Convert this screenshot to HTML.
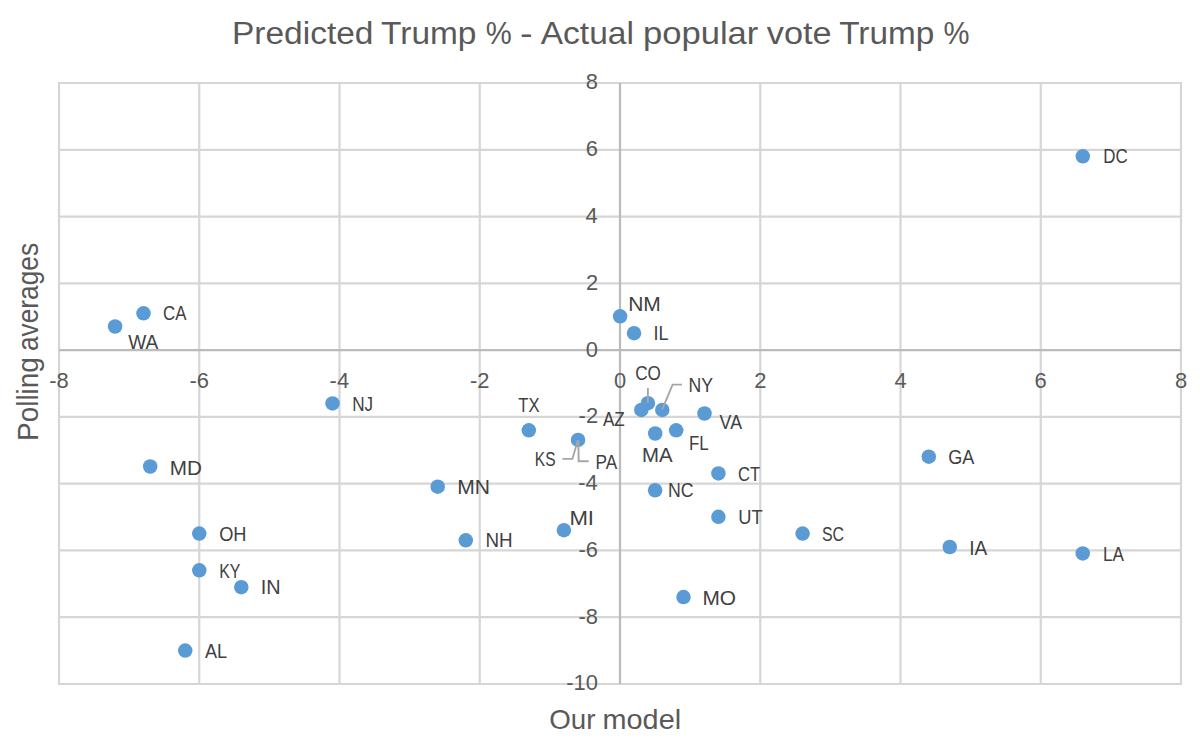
<!DOCTYPE html>
<html><head><meta charset="utf-8"><style>
html,body{margin:0;padding:0;background:#fff;width:1200px;height:743px;overflow:hidden;font-family:"Liberation Sans",sans-serif;}
svg{display:block;}
</style></head><body>
<svg width="1200" height="743" viewBox="0 0 1200 743" font-family="Liberation Sans, sans-serif"><line x1="59.00" y1="82.00" x2="59.00" y2="685.00" stroke="#d6d6d6" stroke-width="2.2"/>
<line x1="199.25" y1="82.00" x2="199.25" y2="685.00" stroke="#d6d6d6" stroke-width="2.2"/>
<line x1="339.50" y1="82.00" x2="339.50" y2="685.00" stroke="#d6d6d6" stroke-width="2.2"/>
<line x1="479.75" y1="82.00" x2="479.75" y2="685.00" stroke="#d6d6d6" stroke-width="2.2"/>
<line x1="760.25" y1="82.00" x2="760.25" y2="685.00" stroke="#d6d6d6" stroke-width="2.2"/>
<line x1="900.50" y1="82.00" x2="900.50" y2="685.00" stroke="#d6d6d6" stroke-width="2.2"/>
<line x1="1040.75" y1="82.00" x2="1040.75" y2="685.00" stroke="#d6d6d6" stroke-width="2.2"/>
<line x1="1181.00" y1="82.00" x2="1181.00" y2="685.00" stroke="#d6d6d6" stroke-width="2.2"/>
<line x1="58.00" y1="684.00" x2="1182.00" y2="684.00" stroke="#d6d6d6" stroke-width="2.2"/>
<line x1="58.00" y1="617.22" x2="1182.00" y2="617.22" stroke="#d6d6d6" stroke-width="2.2"/>
<line x1="58.00" y1="550.44" x2="1182.00" y2="550.44" stroke="#d6d6d6" stroke-width="2.2"/>
<line x1="58.00" y1="483.67" x2="1182.00" y2="483.67" stroke="#d6d6d6" stroke-width="2.2"/>
<line x1="58.00" y1="416.89" x2="1182.00" y2="416.89" stroke="#d6d6d6" stroke-width="2.2"/>
<line x1="58.00" y1="283.33" x2="1182.00" y2="283.33" stroke="#d6d6d6" stroke-width="2.2"/>
<line x1="58.00" y1="216.56" x2="1182.00" y2="216.56" stroke="#d6d6d6" stroke-width="2.2"/>
<line x1="58.00" y1="149.78" x2="1182.00" y2="149.78" stroke="#d6d6d6" stroke-width="2.2"/>
<line x1="58.00" y1="83.00" x2="1182.00" y2="83.00" stroke="#d6d6d6" stroke-width="2.2"/>
<line x1="620.00" y1="83.00" x2="620.00" y2="684.00" stroke="#bbbbbb" stroke-width="2.2"/>
<line x1="59.00" y1="350.11" x2="1181.00" y2="350.11" stroke="#bbbbbb" stroke-width="2.2"/>
<text transform="translate(49.25 388.00) scale(1.0000 1)" font-size="21.91" fill="#595959">-8</text>
<text transform="translate(189.50 388.00) scale(1.0000 1)" font-size="21.91" fill="#595959">-6</text>
<text transform="translate(329.59 388.00) scale(1.0000 1)" font-size="21.91" fill="#595959">-4</text>
<text transform="translate(470.07 388.00) scale(1.0000 1)" font-size="21.91" fill="#595959">-2</text>
<text transform="translate(613.91 388.00) scale(1.0000 1)" font-size="21.91" fill="#595959">0</text>
<text transform="translate(754.16 388.00) scale(1.0000 1)" font-size="21.91" fill="#595959">2</text>
<text transform="translate(894.48 388.00) scale(1.0000 1)" font-size="21.91" fill="#595959">4</text>
<text transform="translate(1034.58 388.00) scale(1.0000 1)" font-size="21.91" fill="#595959">6</text>
<text transform="translate(1174.91 388.00) scale(1.0000 1)" font-size="21.91" fill="#595959">8</text>
<text transform="translate(566.19 690.45) scale(1.0000 1)" font-size="21.91" fill="#595959">-10</text>
<text transform="translate(578.47 623.67) scale(1.0000 1)" font-size="21.91" fill="#595959">-8</text>
<text transform="translate(578.48 556.89) scale(1.0000 1)" font-size="21.91" fill="#595959">-6</text>
<text transform="translate(578.16 490.12) scale(1.0000 1)" font-size="21.91" fill="#595959">-4</text>
<text transform="translate(578.62 423.34) scale(1.0000 1)" font-size="21.91" fill="#595959">-2</text>
<text transform="translate(585.67 356.56) scale(1.0000 1)" font-size="21.91" fill="#595959">0</text>
<text transform="translate(585.92 289.78) scale(1.0000 1)" font-size="21.91" fill="#595959">2</text>
<text transform="translate(585.46 223.01) scale(1.0000 1)" font-size="21.91" fill="#595959">4</text>
<text transform="translate(585.78 156.23) scale(1.0000 1)" font-size="21.91" fill="#595959">6</text>
<text transform="translate(585.77 89.45) scale(1.0000 1)" font-size="21.91" fill="#595959">8</text>
<circle cx="1082.80" cy="156.30" r="7.25" fill="#5b9bd5"/>
<circle cx="143.50" cy="313.30" r="7.25" fill="#5b9bd5"/>
<circle cx="115.10" cy="326.50" r="7.25" fill="#5b9bd5"/>
<circle cx="620.10" cy="316.30" r="7.25" fill="#5b9bd5"/>
<circle cx="634.05" cy="333.20" r="7.25" fill="#5b9bd5"/>
<circle cx="332.50" cy="403.40" r="7.25" fill="#5b9bd5"/>
<circle cx="528.80" cy="430.30" r="7.25" fill="#5b9bd5"/>
<circle cx="647.90" cy="403.20" r="7.25" fill="#5b9bd5"/>
<circle cx="641.30" cy="409.90" r="7.25" fill="#5b9bd5"/>
<circle cx="662.30" cy="409.90" r="7.25" fill="#5b9bd5"/>
<circle cx="704.50" cy="413.50" r="7.25" fill="#5b9bd5"/>
<circle cx="578.05" cy="439.90" r="7.25" fill="#5b9bd5"/>
<circle cx="655.20" cy="433.50" r="7.25" fill="#5b9bd5"/>
<circle cx="676.20" cy="430.30" r="7.25" fill="#5b9bd5"/>
<circle cx="150.20" cy="466.50" r="7.25" fill="#5b9bd5"/>
<circle cx="928.80" cy="456.70" r="7.25" fill="#5b9bd5"/>
<circle cx="718.40" cy="473.40" r="7.25" fill="#5b9bd5"/>
<circle cx="437.70" cy="486.70" r="7.25" fill="#5b9bd5"/>
<circle cx="655.10" cy="490.25" r="7.25" fill="#5b9bd5"/>
<circle cx="199.25" cy="533.60" r="7.25" fill="#5b9bd5"/>
<circle cx="563.90" cy="530.20" r="7.25" fill="#5b9bd5"/>
<circle cx="465.80" cy="540.30" r="7.25" fill="#5b9bd5"/>
<circle cx="718.40" cy="516.80" r="7.25" fill="#5b9bd5"/>
<circle cx="802.60" cy="533.60" r="7.25" fill="#5b9bd5"/>
<circle cx="949.75" cy="547.00" r="7.25" fill="#5b9bd5"/>
<circle cx="1082.75" cy="553.40" r="7.25" fill="#5b9bd5"/>
<circle cx="199.30" cy="570.30" r="7.25" fill="#5b9bd5"/>
<circle cx="241.30" cy="587.20" r="7.25" fill="#5b9bd5"/>
<circle cx="683.50" cy="597.10" r="7.25" fill="#5b9bd5"/>
<circle cx="185.25" cy="650.60" r="7.25" fill="#5b9bd5"/>
<polyline points="562.40,458.90 572.40,458.90 577.85,440.30" fill="none" stroke="#a6a6a6" stroke-width="1.9"/>
<polyline points="578.40,440.30 578.65,461.30 588.70,461.30" fill="none" stroke="#a6a6a6" stroke-width="1.9"/>
<polyline points="647.90,388.10 647.90,402.70" fill="none" stroke="#a6a6a6" stroke-width="1.9"/>
<polyline points="662.20,409.50 672.60,384.60 682.00,384.60" fill="none" stroke="#a6a6a6" stroke-width="1.9"/>
<text transform="translate(1103.21 163.05) scale(0.8621 1)" font-size="19.62" letter-spacing="0.000" fill="#404040">DC</text>
<text transform="translate(163.05 320.00) scale(0.8580 1)" font-size="19.62" letter-spacing="0.000" fill="#404040">CA</text>
<text transform="translate(128.17 348.50) scale(0.9767 1)" font-size="19.62" letter-spacing="0.000" fill="#404040">WA</text>
<text transform="translate(628.13 310.85) scale(1.0715 1)" font-size="19.62" letter-spacing="0.000" fill="#404040">NM</text>
<text transform="translate(653.43 340.15) scale(0.9207 1)" font-size="19.62" letter-spacing="0.000" fill="#404040">IL</text>
<text transform="translate(352.20 410.65) scale(0.8702 1)" font-size="19.62" letter-spacing="0.000" fill="#404040">NJ</text>
<text transform="translate(518.23 412.35) scale(0.8505 1)" font-size="19.62" letter-spacing="0.000" fill="#404040">TX</text>
<text transform="translate(635.23 379.80) scale(0.8728 1)" font-size="19.62" letter-spacing="0.000" fill="#404040">CO</text>
<text transform="translate(688.55 391.85) scale(0.9002 1)" font-size="19.62" letter-spacing="0.000" fill="#404040">NY</text>
<text transform="translate(602.97 426.05) scale(0.8721 1)" font-size="19.62" letter-spacing="0.000" fill="#404040">AZ</text>
<text transform="translate(719.62 429.25) scale(0.9059 1)" font-size="19.62" letter-spacing="0.000" fill="#404040">VA</text>
<text transform="translate(534.82 466.40) scale(0.7923 1)" font-size="19.62" letter-spacing="0.000" fill="#404040">KS</text>
<text transform="translate(595.59 468.90) scale(0.8765 1)" font-size="19.62" letter-spacing="0.000" fill="#404040">PA</text>
<text transform="translate(642.03 461.75) scale(1.0401 1)" font-size="19.62" letter-spacing="0.000" fill="#404040">MA</text>
<text transform="translate(688.91 450.45) scale(0.8625 1)" font-size="19.62" letter-spacing="0.000" fill="#404040">FL</text>
<text transform="translate(169.80 474.55) scale(1.0548 1)" font-size="19.62" letter-spacing="0.000" fill="#404040">MD</text>
<text transform="translate(948.29 463.85) scale(0.9185 1)" font-size="19.62" letter-spacing="0.000" fill="#404040">GA</text>
<text transform="translate(738.06 480.75) scale(0.8458 1)" font-size="19.62" letter-spacing="0.000" fill="#404040">CT</text>
<text transform="translate(457.27 493.85) scale(1.0767 1)" font-size="19.62" letter-spacing="0.000" fill="#404040">MN</text>
<text transform="translate(668.04 497.15) scale(0.9044 1)" font-size="19.62" letter-spacing="0.000" fill="#404040">NC</text>
<text transform="translate(219.14 540.65) scale(0.9292 1)" font-size="19.62" letter-spacing="0.000" fill="#404040">OH</text>
<text transform="translate(569.38 524.75) scale(1.1319 1)" font-size="19.62" letter-spacing="0.000" fill="#404040">MI</text>
<text transform="translate(485.46 547.35) scale(0.9590 1)" font-size="19.62" letter-spacing="0.000" fill="#404040">NH</text>
<text transform="translate(738.29 523.95) scale(0.9342 1)" font-size="19.62" letter-spacing="0.000" fill="#404040">UT</text>
<text transform="translate(822.03 540.65) scale(0.8099 1)" font-size="19.62" letter-spacing="0.000" fill="#404040">SC</text>
<text transform="translate(969.24 554.65) scale(0.9736 1)" font-size="19.62" letter-spacing="0.000" fill="#404040">IA</text>
<text transform="translate(1103.10 560.75) scale(0.8724 1)" font-size="19.62" letter-spacing="0.000" fill="#404040">LA</text>
<text transform="translate(219.19 577.65) scale(0.8121 1)" font-size="19.62" letter-spacing="0.000" fill="#404040">KY</text>
<text transform="translate(260.67 594.15) scale(1.0116 1)" font-size="19.62" letter-spacing="0.000" fill="#404040">IN</text>
<text transform="translate(702.39 604.55) scale(1.0633 1)" font-size="19.62" letter-spacing="0.000" fill="#404040">MO</text>
<text transform="translate(204.96 658.00) scale(0.9223 1)" font-size="19.62" letter-spacing="0.000" fill="#404040">AL</text>
<text transform="translate(232.05 44.00) scale(1.0373 1)" font-size="32.27" fill="#595959">Predicted</text>
<text transform="translate(381.05 44.00) scale(1.0368 1)" font-size="32.27" fill="#595959">Trump</text>
<text transform="translate(485.76 44.00) scale(0.9056 1)" font-size="32.27" fill="#595959">%</text>
<text transform="translate(520.03 44.00) scale(1.1678 1)" font-size="32.27" fill="#595959">-</text>
<text transform="translate(540.73 44.00) scale(1.0393 1)" font-size="32.27" fill="#595959">Actual</text>
<text transform="translate(642.97 44.00) scale(1.0721 1)" font-size="32.27" fill="#595959">popular</text>
<text transform="translate(766.78 44.00) scale(1.0631 1)" font-size="32.27" fill="#595959">vote</text>
<text transform="translate(839.25 44.00) scale(1.0335 1)" font-size="32.27" fill="#595959">Trump</text>
<text transform="translate(943.46 44.00) scale(0.9056 1)" font-size="32.27" fill="#595959">%</text>
<text transform="translate(549.19 728.60) scale(0.9925 1)" font-size="27.91" fill="#595959">Our</text>
<text transform="translate(602.58 728.60) scale(1.0333 1)" font-size="27.91" fill="#595959">model</text>
<g transform="translate(38.1 438.8) rotate(-90) translate(0 -19.8)"><text transform="translate(-2.09 19.80) scale(0.9686 1)" font-size="28.78" fill="#595959">Polling</text><text transform="translate(87.78 19.80) scale(0.9136 1)" font-size="28.78" fill="#595959">averages</text></g></svg>
</body></html>
